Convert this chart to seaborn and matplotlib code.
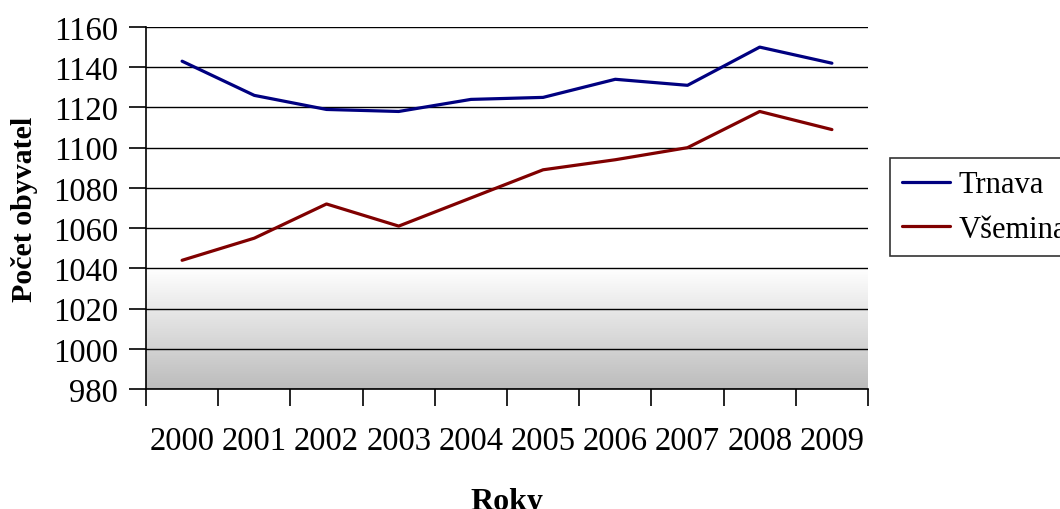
import numpy as np
import pandas as pd
import seaborn as sns
import matplotlib.pyplot as plt

years = ["2000", "2001", "2002", "2003", "2004", "2005", "2006", "2007", "2008", "2009"]
trnava = [1143, 1126, 1119, 1118, 1124, 1125, 1134, 1131, 1150, 1142]
vsemina = [1044, 1055, 1072, 1061, 1075, 1089, 1094, 1100, 1118, 1109]

df = pd.DataFrame({
    "Roky": list(range(len(years))) * 2,
    "Počet obyvatel": trnava + vsemina,
    "obec": ["Trnava"] * len(years) + ["Všemina"] * len(years),
})

sns.set_style("white")
plt.rcParams["font.family"] = ["Liberation Serif", "DejaVu Serif"]
plt.rcParams["text.color"] = "black"
plt.rcParams["axes.labelcolor"] = "black"
plt.rcParams["xtick.color"] = "black"
plt.rcParams["ytick.color"] = "black"

fig = plt.figure(figsize=(10.6, 5.1), dpi=100)
ax = fig.add_axes([146 / 1060, 1 - 390 / 510, (868 - 146) / 1060, (390 - 28) / 510])

# gray gradient at the bottom of the plot area
grad = np.linspace(0, 1, 256).reshape(-1, 1)
ax.imshow(grad, cmap=sns.blend_palette(["#bcbcbc", "#ffffff"], as_cmap=True),
          extent=[-0.5, len(years) - 0.5, 980, 1040], origin="lower",
          aspect="auto", zorder=0)

sns.lineplot(data=df, x="Roky", y="Počet obyvatel", hue="obec",
             palette=["#000080", "#800000"], linewidth=2.3, ax=ax,
             legend=False, zorder=3)

ax.set_xlim(-0.5, len(years) - 0.5)
ax.set_ylim(980, 1160)
ax.set_yticks(np.arange(980, 1161, 20))
ax.yaxis.grid(True, color="black", linewidth=1.0)
ax.set_axisbelow(False)
for l in ax.get_ygridlines():
    l.set_zorder(1)

ax.set_xticks(np.arange(-0.5, len(years), 1))
ax.set_xticklabels([])
ax.set_xticks(range(len(years)), minor=True)
ax.set_xticklabels(years, minor=True)
ax.tick_params(axis="x", which="major", bottom=True, direction="out", length=12, width=1.2, color="black")
ax.tick_params(axis="x", which="minor", bottom=True, length=0, pad=26.5, labelsize=23.5, labelcolor="black")
ax.tick_params(axis="y", left=True, direction="out", length=12, width=1.2, color="black",
               labelsize=23.5, pad=8, labelcolor="black")

for s in ["top", "right"]:
    ax.spines[s].set_visible(False)
for s in ["left", "bottom"]:
    ax.spines[s].set_color("black")
    ax.spines[s].set_linewidth(1.2)

ax.set_xlabel("Roky", fontsize=23, fontweight="bold", labelpad=22, color="black")
ax.set_ylabel("Počet obyvatel", fontsize=21.5, fontweight="bold", labelpad=11, color="black")

handles = [plt.Line2D([], [], color="#000080", linewidth=2.3),
           plt.Line2D([], [], color="#800000", linewidth=2.3)]
leg = fig.legend(handles, ["Trnava", "Všemina"], loc="upper left",
                 bbox_to_anchor=(890 / 1060, 1 - 159 / 510), fontsize=22,
                 frameon=True, fancybox=False, edgecolor="black",
                 handlelength=1.57, handletextpad=0.26, borderpad=0.4,
                 labelspacing=0.5, borderaxespad=0)
leg.get_frame().set_linewidth(1.2)
for t in leg.get_texts():
    t.set_color("black")

fig.savefig("out.png", dpi=100)
